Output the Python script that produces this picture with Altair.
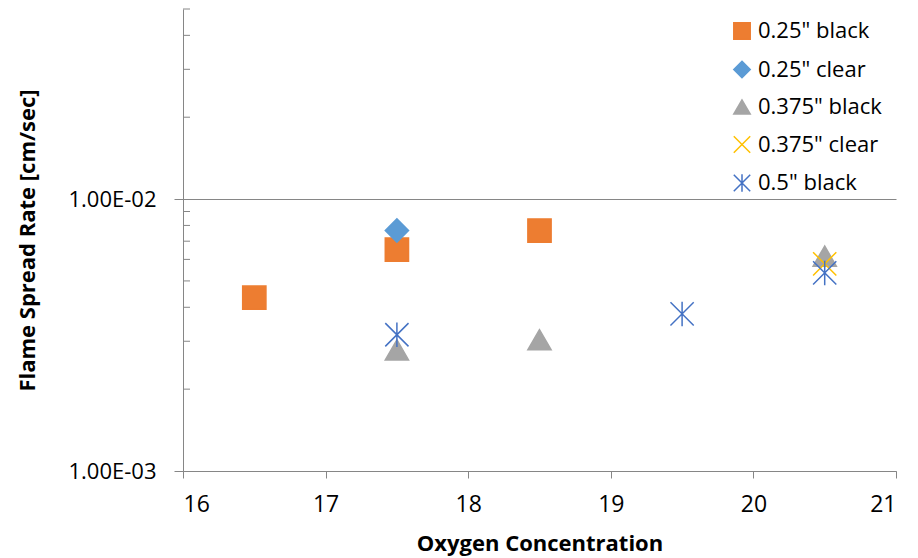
import altair as alt
import pandas as pd

series_names = ['0.25" black', '0.25" clear', '0.375" black', '0.375" clear', '0.5" black']

s1_x = [16.5, 17.5, 18.5]
s1_y = [0.00434, 0.00652, 0.00766]
s2_x = [17.5]
s2_y = [0.00766]
s3_x = [17.5, 18.5, 20.5]
s3_y = [0.00279, 0.00304, 0.00617]
s4_x = [20.5]
s4_y = [0.00578]
s5_x = [17.5, 19.5, 20.5]
s5_y = [0.00317, 0.00378, 0.00535]

y_tick_values = [0.001, 0.01]
y_tick_labels = ["1.00E-03", "1.00E-02"]
minor_ticks = [0.002, 0.003, 0.004, 0.005, 0.006, 0.007, 0.008, 0.009,
               0.02, 0.03, 0.04, 0.05]
x_ticks = [16, 17, 18, 19, 20, 21]

fill_colors = ["#ED7D31", "#5B9BD5", "#A5A5A5", "transparent", "transparent"]
stroke_colors = ["#ED7D31", "#5B9BD5", "#A5A5A5", "#FFC000", "#4472C4"]
shapes = ["square", "diamond", "triangle-up",
          "M-1,-1L1,1M-1,1L1,-1",
          "M-1,-1L1,1M-1,1L1,-1M0,-1.05L0,1.05"]

rows = []
for name, xs, ys in zip(series_names, [s1_x, s2_x, s3_x, s4_x, s5_x],
                        [s1_y, s2_y, s3_y, s4_y, s5_y]):
    for xv, yv in zip(xs, ys):
        rows.append({"Series": name, "O2": xv, "Rate": yv})
df = pd.DataFrame(rows)
minor_df = pd.DataFrame({"v": minor_ticks})

FONT = "Open Sans"
AX = "#868686"

label_expr = " : ".join(
    [f"datum.value == {v} ? '{l}'" for v, l in zip(y_tick_values, y_tick_labels)]
) + " : ''"

xscale = alt.Scale(domain=[16, 21], nice=False, zero=False)
yscale = alt.Scale(type="log", domain=[0.001, 0.05], nice=False)

legend = alt.Legend(
    title=None, orient="none", legendX=548, legendY=11,
    symbolSize=270, symbolStrokeWidth=1.5, labelFontSize=22, labelFont=FONT,
    labelColor="#000000", rowPadding=14.5, labelOffset=5, padding=0,
)

points = alt.Chart(df).mark_point(size=540, strokeWidth=1.5, opacity=1).encode(
    x=alt.X("O2:Q", scale=xscale,
            axis=alt.Axis(values=x_ticks, title="Oxygen Concentration",
                          grid=False, tickSize=7, labelPadding=15,
                          labelFontSize=23,
                          titleY=72, titleBaseline="middle", format="d")),
    y=alt.Y("Rate:Q", scale=yscale,
            axis=alt.Axis(values=y_tick_values, labelExpr=label_expr,
                          title="Flame Spread Rate [cm/sec]", grid=True,
                          gridColor=AX, tickSize=9, labelPadding=18,
                          labelFontSize=22,
                          titleX=-156, titleY=231, titleBaseline="middle",
                          titleAngle=270)),
    fill=alt.Fill("Series:N", scale=alt.Scale(domain=series_names, range=fill_colors), legend=legend),
    stroke=alt.Stroke("Series:N", scale=alt.Scale(domain=series_names, range=stroke_colors), legend=legend),
    shape=alt.Shape("Series:N", scale=alt.Scale(domain=series_names, range=shapes), legend=legend),
    order=alt.Order("idx:Q"),
).transform_window(idx="row_number()")

minor = alt.Chart(minor_df).mark_rule(color=AX, strokeWidth=1).encode(
    y=alt.Y("v:Q", scale=yscale),
    x=alt.value(0),
    x2=alt.value(7),
)

chart = alt.layer(minor, points).properties(
    width=713, height=462,
    autosize=alt.AutoSizeParams(type="none"),
    padding={"left": 175, "top": 1, "right": 12, "bottom": 87},
).configure_view(stroke=None).configure_axis(
    domainColor=AX, tickColor=AX, labelFont=FONT, titleFont=FONT,
    titleFontSize=22, labelColor="#000000",
    titleColor="#000000", titleFontWeight="bold",
)

chart.save("out.html", embed_options={"renderer": "svg", "actions": False})
